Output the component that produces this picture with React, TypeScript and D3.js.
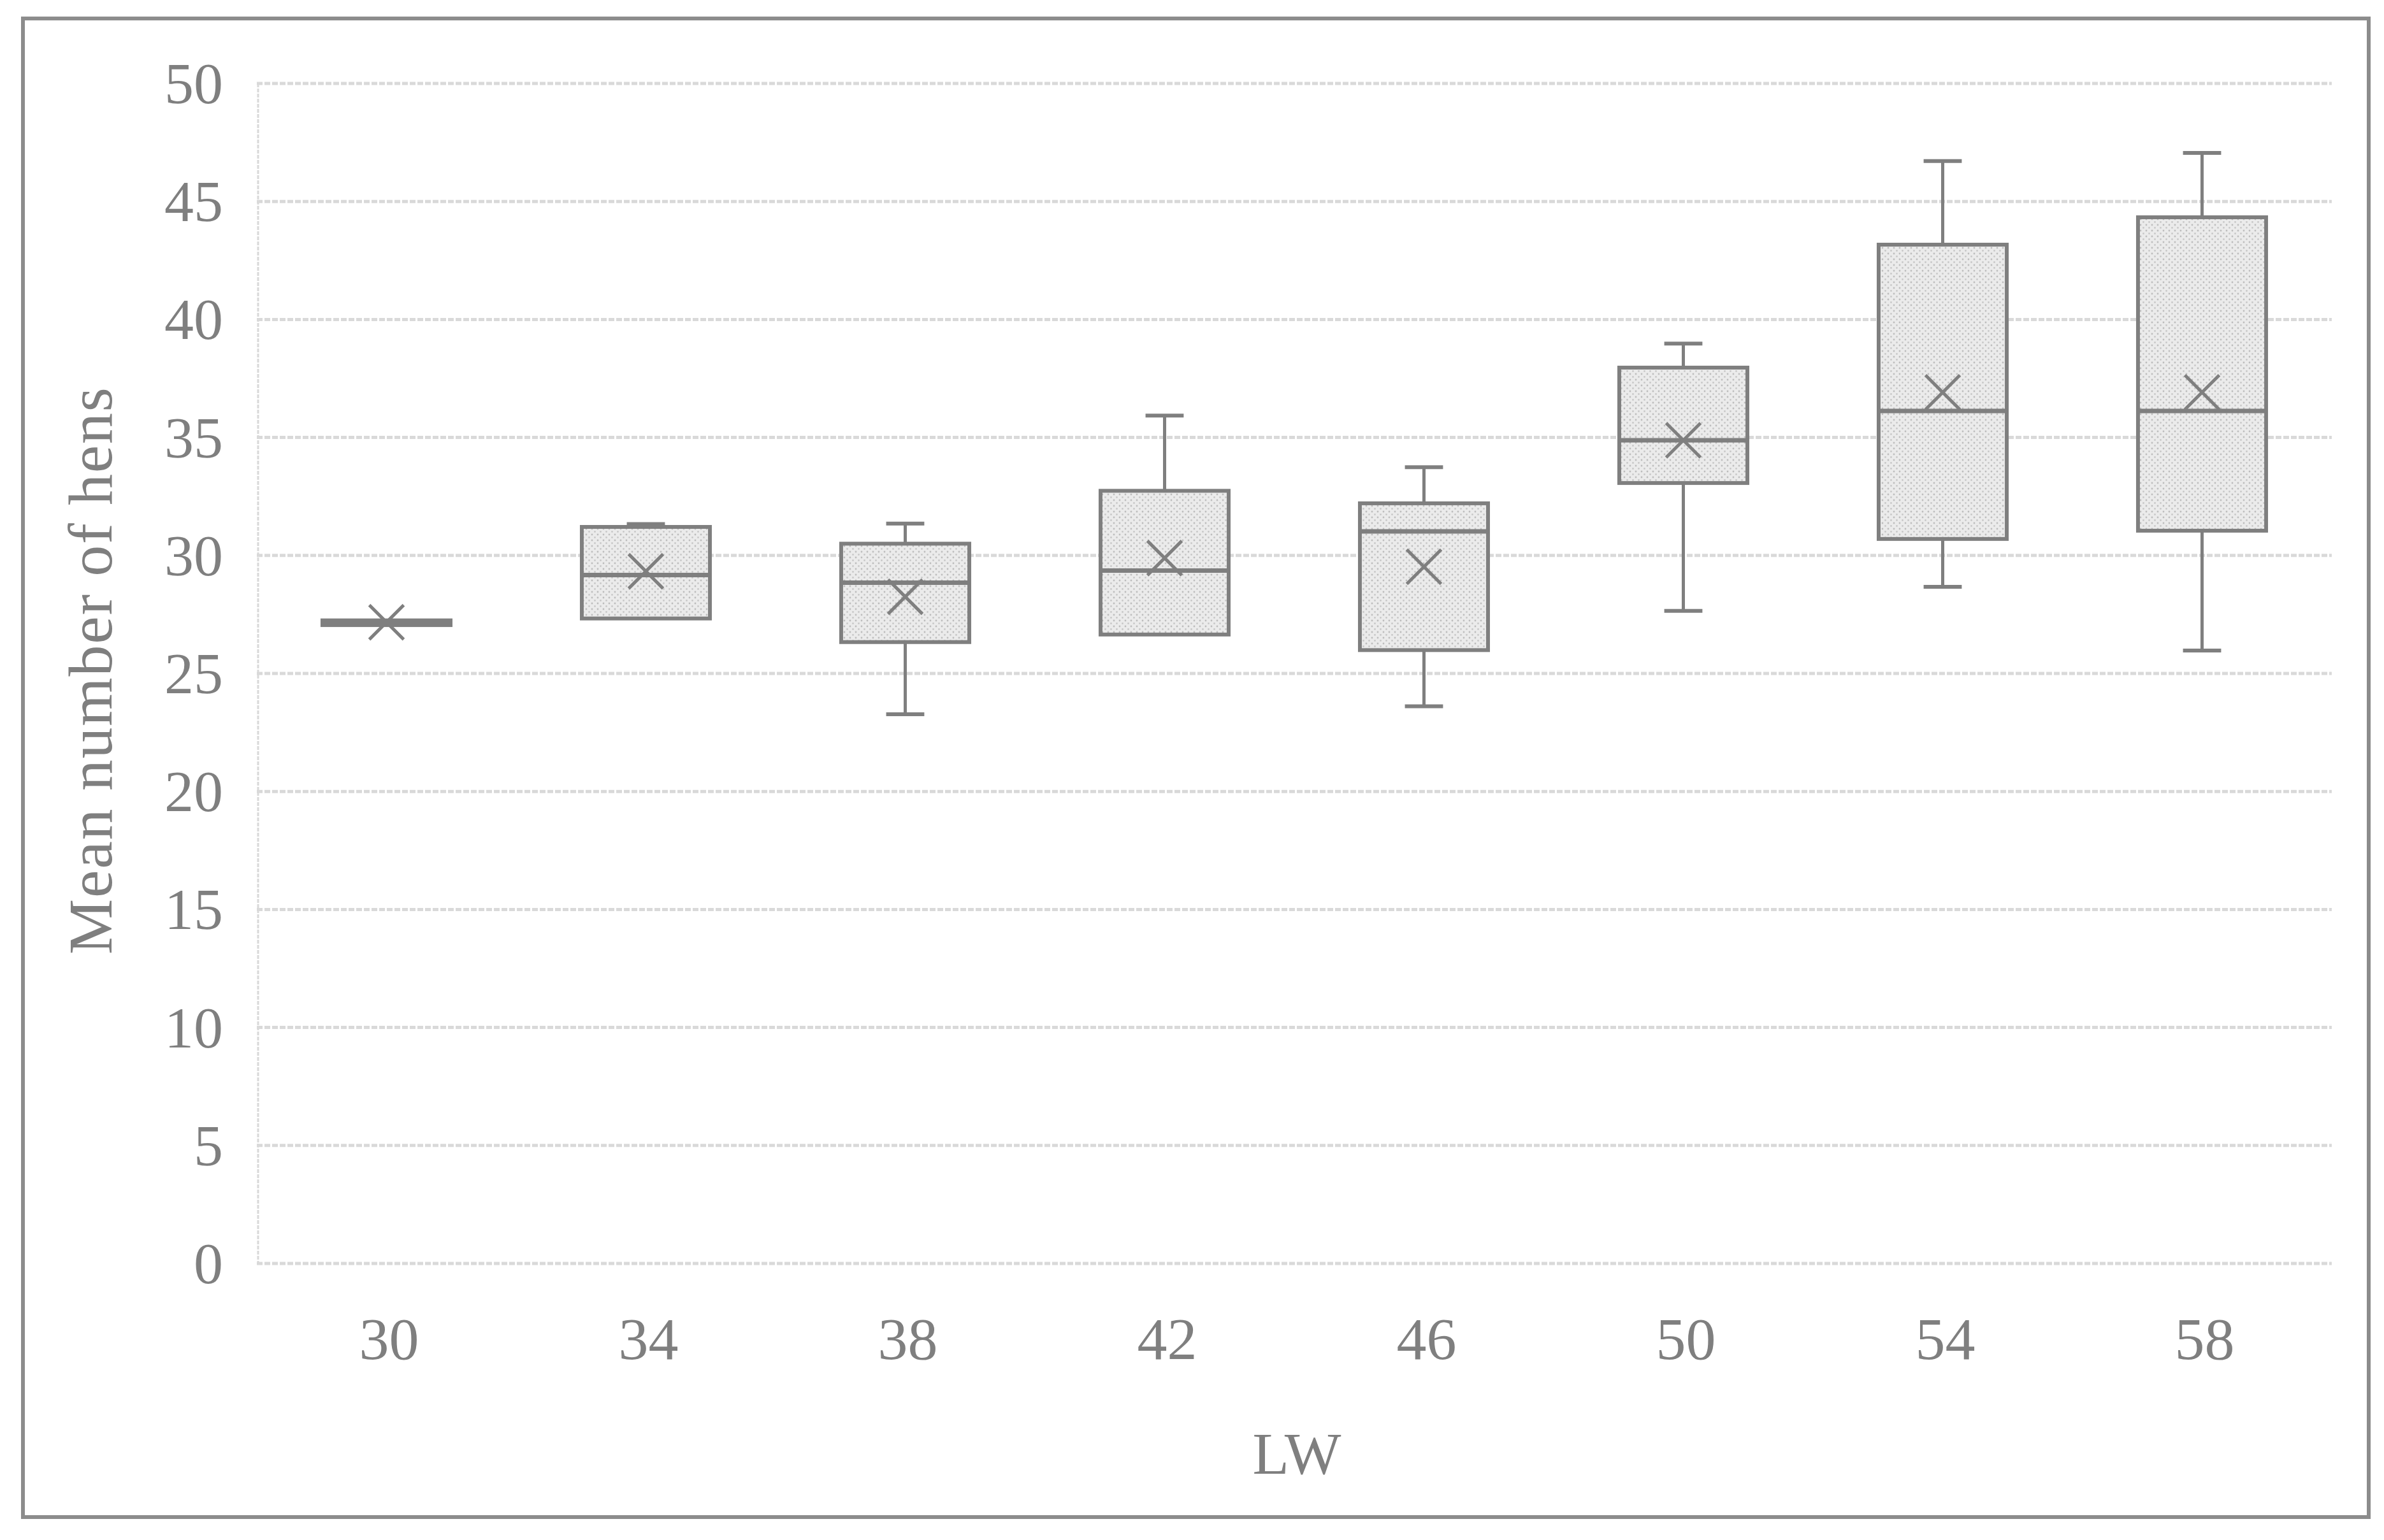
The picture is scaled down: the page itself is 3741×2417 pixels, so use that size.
import React, { useRef, useEffect } from 'react';
import * as d3 from 'd3';

// LW groups and the box statistics
const categories = ['30', '34', '38', '42', '46', '50', '54', '58'];
const minValues = [27.05, 27.33, 23.27, 26.65, 23.61, 27.65, 28.67, 25.97];
const q1Values = [27.05, 27.33, 26.33, 26.65, 25.99, 33.07, 30.7, 31.05];
const medianValues = [27.15, 29.17, 28.85, 29.36, 31.02, 34.88, 36.12, 36.12];
const q3Values = [27.25, 31.21, 30.5, 32.74, 32.21, 37.96, 43.17, 44.33];
const maxValues = [27.25, 31.33, 31.35, 35.93, 33.74, 38.98, 46.71, 47.06];
const meanValues = [27.17, 29.33, 28.25, 29.89, 29.52, 34.88, 36.91, 36.91];
const yTicks = [0, 5, 10, 15, 20, 25, 30, 35, 40, 45, 50];

export default function App() {
    const svgRef = useRef<SVGSVGElement | null>(null);

    useEffect(() => {
        const width = 3741;
        const height = 2417;
        const left = 403;
        const right = 3659;
        const top = 131;
        const bottom = 1983;
        const grey = '#7f7f7f';
        const font = '"Liberation Serif", "Times New Roman", serif';

        d3.select(svgRef.current).selectAll('*').remove();

        const svg = d3
            .select(svgRef.current)
            .attr('width', width)
            .attr('height', height);

        svg.append('rect')
            .attr('width', width)
            .attr('height', height)
            .attr('fill', '#ffffff');

        // dotted fill of the boxes
        const pattern = svg.append('defs')
            .append('pattern')
            .attr('id', 'dots')
            .attr('patternUnits', 'userSpaceOnUse')
            .attr('width', 9)
            .attr('height', 9);
        pattern.append('rect').attr('width', 9).attr('height', 9).attr('fill', '#ebebeb');
        pattern.append('circle').attr('cx', 2).attr('cy', 2).attr('r', 1.4).attr('fill', '#bdbdbd');
        pattern.append('circle').attr('cx', 6.5).attr('cy', 6.5).attr('r', 1.4).attr('fill', '#c8c8c8');

        // outer frame
        svg.append('rect')
            .attr('x', 36)
            .attr('y', 29)
            .attr('width', 3681)
            .attr('height', 2352)
            .attr('fill', 'none')
            .attr('stroke', '#8c8c8c')
            .attr('stroke-width', 6);

        const xScale = d3
            .scaleBand()
            .domain(categories)
            .range([left, right])
            .padding(0);

        const yScale = d3
            .scaleLinear()
            .domain([0, 50])
            .range([bottom, top]);

        // grid lines
        yTicks.forEach((t) => {
            svg.append('line')
                .attr('x1', left)
                .attr('x2', right)
                .attr('y1', yScale(t))
                .attr('y2', yScale(t))
                .attr('stroke', '#d9d9d9')
                .attr('stroke-width', 5)
                .attr('stroke-dasharray', '9 3');

            svg.append('text')
                .attr('x', 350)
                .attr('y', yScale(t) + 31)
                .attr('text-anchor', 'end')
                .text(String(t))
                .attr('fill', grey)
                .attr('font-family', font)
                .attr('font-size', 92);
        });

        svg.append('line')
            .attr('x1', left + 2)
            .attr('x2', left + 2)
            .attr('y1', top)
            .attr('y2', bottom)
            .attr('stroke', '#d9d9d9')
            .attr('stroke-width', 3)
            .attr('stroke-dasharray', '6 2');

        const bw = xScale.bandwidth();
        const boxW = bw * 0.494;
        const capW = bw * 0.147;
        const xHalf = 27;

        categories.forEach((c, i) => {
            const cx = xScale(c)! + bw / 2;

            // whiskers
            if (maxValues[i] > q3Values[i]) {
                svg.append('line')
                    .attr('x1', cx).attr('x2', cx)
                    .attr('y1', yScale(q3Values[i])).attr('y2', yScale(maxValues[i]))
                    .attr('stroke', grey).attr('stroke-width', 5);
                svg.append('line')
                    .attr('x1', cx - capW / 2).attr('x2', cx + capW / 2)
                    .attr('y1', yScale(maxValues[i])).attr('y2', yScale(maxValues[i]))
                    .attr('stroke', grey).attr('stroke-width', 6);
            }
            if (minValues[i] < q1Values[i]) {
                svg.append('line')
                    .attr('x1', cx).attr('x2', cx)
                    .attr('y1', yScale(q1Values[i])).attr('y2', yScale(minValues[i]))
                    .attr('stroke', grey).attr('stroke-width', 5);
                svg.append('line')
                    .attr('x1', cx - capW / 2).attr('x2', cx + capW / 2)
                    .attr('y1', yScale(minValues[i])).attr('y2', yScale(minValues[i]))
                    .attr('stroke', grey).attr('stroke-width', 6);
            }

            // box
            svg.append('rect')
                .attr('x', cx - boxW / 2)
                .attr('y', yScale(q3Values[i]))
                .attr('width', boxW)
                .attr('height', yScale(q1Values[i]) - yScale(q3Values[i]))
                .attr('fill', 'url(#dots)')
                .attr('stroke', grey)
                .attr('stroke-width', 6);

            // median
            svg.append('line')
                .attr('x1', cx - boxW / 2).attr('x2', cx + boxW / 2)
                .attr('y1', yScale(medianValues[i])).attr('y2', yScale(medianValues[i]))
                .attr('stroke', grey).attr('stroke-width', 7);

            // mean marker
            const my = yScale(meanValues[i]);
            svg.append('path')
                .attr('d', `M${cx - xHalf},${my - xHalf}L${cx + xHalf},${my + xHalf}M${cx - xHalf},${my + xHalf}L${cx + xHalf},${my - xHalf}`)
                .attr('stroke', grey)
                .attr('stroke-width', 5)
                .attr('fill', 'none');

            svg.append('text')
                .attr('x', cx + 4)
                .attr('y', 2133)
                .attr('text-anchor', 'middle')
                .text(c)
                .attr('fill', grey)
                .attr('font-family', font)
                .attr('font-size', 94);
        });

        svg.append('text')
            .attr('x', 2035)
            .attr('y', 2313)
            .attr('text-anchor', 'middle')
            .text('LW')
            .attr('fill', grey)
            .attr('font-family', font)
            .attr('font-size', 94);

        svg.append('text')
            .attr('transform', 'translate(175,1053) rotate(-90)')
            .attr('text-anchor', 'middle')
            .text('Mean number of hens')
            .attr('fill', grey)
            .attr('font-family', font)
            .attr('font-size', 98)
            .attr('textLength', 890)
            .attr('lengthAdjust', 'spacing');
    }, []);

    return <svg ref={svgRef} style={{ position: 'absolute', left: 0, top: 0 }}></svg>;
}
